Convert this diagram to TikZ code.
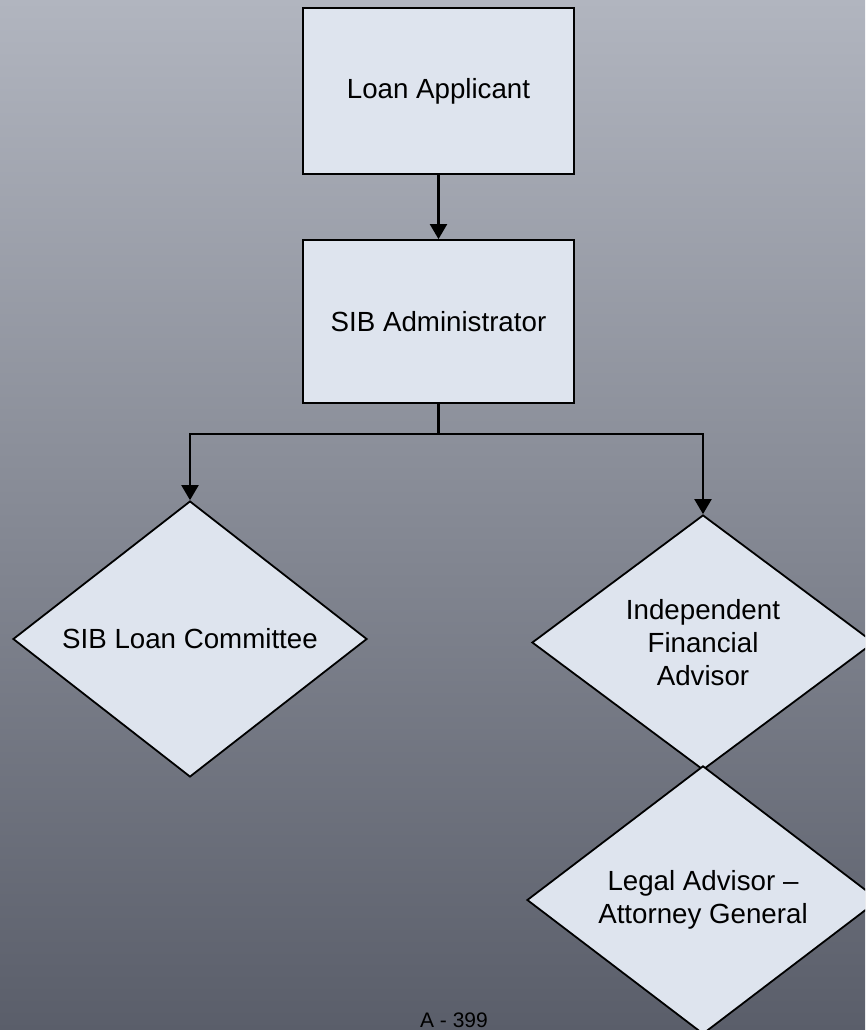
\documentclass[tikz,border=0pt]{standalone}
\usepackage{fontspec}
\setmainfont{Liberation Sans}
\usetikzlibrary{shapes.geometric,arrows.meta}
\definecolor{ChartBgTop}{RGB}{177,181,191}
\definecolor{ChartBgBottom}{RGB}{90,94,106}
\definecolor{ChartFill}{RGB}{222,228,238}

\begin{document}
\begin{tikzpicture}[x=1pt,y=-1pt,
  box/.style={rectangle,draw=black,line width=1.8pt,fill=ChartFill,minimum width=271pt,minimum height=#1,inner sep=0pt,font=\fontsize{27.7}{33}\selectfont},
  decision/.style n args={2}{diamond,draw=black,line width=1.8pt,fill=ChartFill,minimum width=#1,minimum height=#2,inner sep=0pt,align=center,font=\fontsize{27.7}{33}\selectfont},
  link/.style={line width=2.2pt,-{Triangle[length=15pt,width=17pt]}}]
\useasboundingbox (0,0) rectangle (865,1030);
\clip (0,0) rectangle (865,1030);
\fill[top color=ChartBgTop,bottom color=ChartBgBottom] (0,0) rectangle (865,1030);
\node[box=166pt] (applicant) at (438.5,91) {Loan Applicant};
\node[box=163pt] (admin) at (438.5,321.5) {SIB Administrator};
\node[decision={354pt}{264pt}] (committee) at (190,639) {SIB Loan Committee};
\node[decision={342pt}{255pt}] (ifa) at (703,642.5) {Independent\\Financial\\Advisor};
\node[decision={352pt}{260pt}] (legal) at (703,900) {Legal Advisor –\\Attorney General};
\node[font=\fontsize{21}{25}\selectfont,anchor=base] (page) at (454,1027) {A - 399};
\draw[link] (applicant) -- (admin);
\draw[line width=2.2pt] (admin.south) -- ++(0,30) coordinate (split);
\draw[link] (split) -| (committee.north);
\draw[link] (split) -| (ifa.north);
\end{tikzpicture}
\end{document}
